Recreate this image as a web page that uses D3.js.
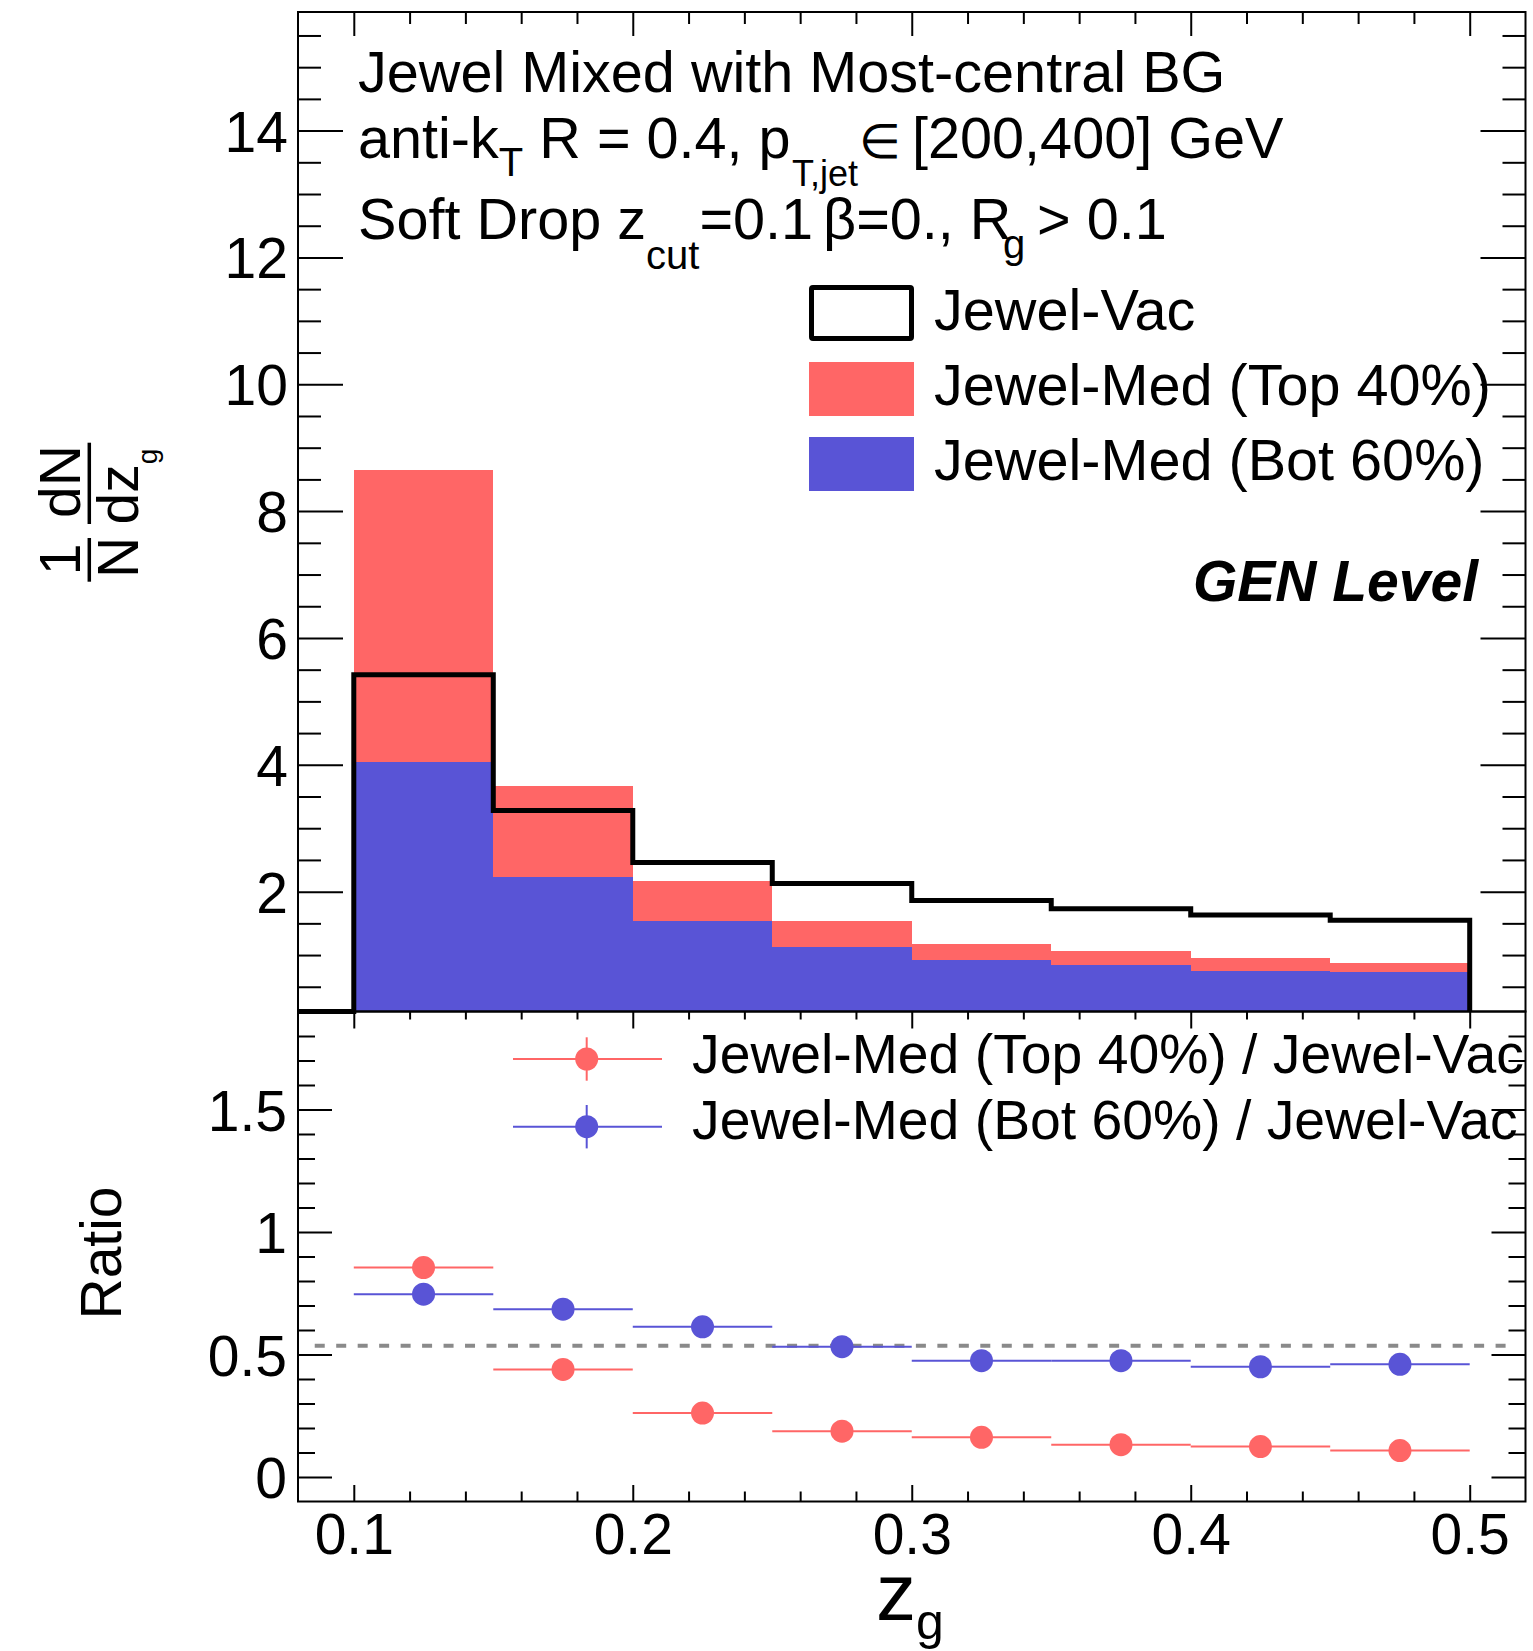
<!DOCTYPE html>
<html><head><meta charset="utf-8">
<script src="https://cdn.jsdelivr.net/npm/d3@7"></script>
<style>
body{margin:0;background:#fff}
svg{display:block}
text{font-family:"Liberation Sans",Arial,Helvetica,sans-serif;fill:#000;white-space:pre}
</style>
</head><body>
<svg id="c" width="1533" height="1651"></svg>
<script>
// ---------------- data ----------------
const binEdges   = [0.10,0.15,0.20,0.25,0.30,0.35,0.40,0.45,0.50];
const vacValues  = [5.42,3.28,2.46,2.13,1.86,1.73,1.63,1.55];   // Jewel-Vac
const medBot60   = [4.04,2.23,1.53,1.12,0.92,0.85,0.75,0.74];   // Jewel-Med (Bot 60%) (stack bottom)
const medTop40   = [4.61,1.43,0.63,0.41,0.26,0.22,0.20,0.13];   // Jewel-Med (Top 40%) (stacked on top)
const ratioTop40 = [0.855,0.439,0.261,0.187,0.162,0.132,0.124,0.108];
const ratioBot60 = [0.746,0.685,0.613,0.532,0.475,0.475,0.450,0.460];
const ratioRefValue = 0.536;
const ratioRefRange = [0.086,0.513];
const topYTicks   = [2,4,6,8,10,12,14];
const ratioYTicks = [0,0.5,1,1.5];
const ratioYLabels= ["0","0.5","1","1.5"];
const xTicks      = [0.1,0.2,0.3,0.4,0.5];
const xTickLabels = ["0.1","0.2","0.3","0.4","0.5"];
const legendTop   = ["Jewel-Vac","Jewel-Med (Top 40%)","Jewel-Med (Bot 60%)"];
const legendRatio = ["Jewel-Med (Top 40%) / Jewel-Vac","Jewel-Med (Bot 60%) / Jewel-Vac"];

// ---------------- layout ----------------
const RED='#ff6666', BLUE='#5954d6';
const L=298, R=1525.5, T=12, M=1011.5, B=1501.5;
const FS=57, FT=57.6;
const svg=d3.select('#c');
const x=d3.scaleLinear().domain([0.08,0.52]).range([L,R]);
const yTop=d3.scaleLinear().domain([0.11,15.87]).range([M,T]);
const yRat=d3.scaleLinear().domain([-0.1,1.9]).range([B,M]);

const bins=d3.range(binEdges.length-1).map(i=>({
  lo:binEdges[i],hi:binEdges[i+1],bot:medBot60[i],top:medTop40[i],
  vac:vacValues[i],rT:ratioTop40[i],rB:ratioBot60[i]}));
const stacked=d3.stack().keys(['bot','top'])(bins);

// ---------------- top panel fills ----------------
const gTop=svg.append('g');
gTop.selectAll('rect.red').data(stacked[1]).join('rect')
  .attr('x',d=>x(d.data.lo)).attr('width',d=>x(d.data.hi)-x(d.data.lo))
  .attr('y',d=>yTop(d[1])).attr('height',d=>M-yTop(d[1]))
  .attr('fill',RED).attr('shape-rendering','crispEdges');
gTop.selectAll('rect.blue').data(stacked[0]).join('rect')
  .attr('x',d=>x(d.data.lo)).attr('width',d=>x(d.data.hi)-x(d.data.lo))
  .attr('y',d=>yTop(d[1])).attr('height',d=>M-yTop(d[1]))
  .attr('fill',BLUE).attr('shape-rendering','crispEdges');

// vacuum outline
const ymin=yTop.domain()[0];
const vacPts=[[0.08,ymin]].concat(bins.map(b=>[b.lo,b.vac]),[[0.5,ymin]]);
gTop.append('path').datum(vacPts)
  .attr('d',d3.line().x(d=>x(d[0])).y(d=>yTop(d[1])).curve(d3.curveStepAfter))
  .attr('fill','none').attr('stroke','#000').attr('stroke-width',5);

// ---------------- ratio panel ----------------
const gR=svg.append('g');
gR.append('line')
  .attr('x1',x(ratioRefRange[0])).attr('x2',x(ratioRefRange[1]))
  .attr('y1',yRat(ratioRefValue)).attr('y2',yRat(ratioRefValue))
  .attr('stroke','#8a8a8a').attr('stroke-width',4).attr('stroke-dasharray','10,11.47');
[['rT',RED],['rB',BLUE]].forEach(([k,c])=>{
  gR.selectAll('line.e'+k).data(bins).join('line')
    .attr('x1',d=>x(d.lo)).attr('x2',d=>x(d.hi))
    .attr('y1',d=>yRat(d[k])).attr('y2',d=>yRat(d[k]))
    .attr('stroke',c).attr('stroke-width',2);
  gR.selectAll('circle.m'+k).data(bins).join('circle')
    .attr('cx',d=>x((d.lo+d.hi)/2)).attr('cy',d=>yRat(d[k])).attr('r',11.5)
    .attr('fill',c);
});

// ---------------- frames & ticks ----------------
function frame(y0,y1){
  svg.append('rect').attr('x',L).attr('y',y0).attr('width',R-L).attr('height',y1-y0)
    .attr('fill','none').attr('stroke','#000').attr('stroke-width',2);
}
frame(T,M); frame(M,B);
function ticks(axisFn,scale,vals,size,tx,ty){
  const g=svg.append('g').attr('transform',`translate(${tx},${ty})`)
    .call(axisFn(scale).tickValues(vals).tickSize(size).tickSizeOuter(0).tickFormat(''));
  g.select('.domain').remove();
  g.selectAll('line').attr('stroke','#000').attr('stroke-width',2);
}
const xMinor=d3.range(6,26).filter(i=>i%5!==0).map(i=>i*0.02);
const topYMinor=d3.range(1,32).filter(i=>i%4!==0).map(i=>i*0.5);
const ratYMinor=d3.range(1,19).filter(i=>i%5!==0).map(i=>i/10);
// top panel
ticks(d3.axisRight,yTop,topYTicks,45,L,0);
ticks(d3.axisRight,yTop,topYMinor,23,L,0);
ticks(d3.axisLeft,yTop,topYTicks,45,R,0);
ticks(d3.axisLeft,yTop,topYMinor,23,R,0);
ticks(d3.axisBottom,x,xTicks,24,0,T);
ticks(d3.axisBottom,x,xMinor,12,0,T);
// ratio panel
ticks(d3.axisRight,yRat,ratioYTicks,34,L,0);
ticks(d3.axisRight,yRat,ratYMinor,17,L,0);
ticks(d3.axisLeft,yRat,ratioYTicks,34,R,0);
ticks(d3.axisLeft,yRat,ratYMinor,17,R,0);
ticks(d3.axisBottom,x,xTicks,17,0,M);
ticks(d3.axisBottom,x,xMinor,8,0,M);
ticks(d3.axisTop,x,xTicks,16.5,0,B);
ticks(d3.axisTop,x,xMinor,10,0,B);

// tick labels
function labels(axisFn,scale,vals,fmt,pad,tx,ty,dy){
  const g=svg.append('g').attr('transform',`translate(${tx},${ty})`)
    .call(axisFn(scale).tickValues(vals).tickSize(0).tickPadding(pad).tickFormat(fmt));
  g.select('.domain').remove();
  g.attr('font-family',null).attr('font-size',null);
  g.selectAll('text').attr('font-size',FS).attr('fill','#000');
  if(dy) g.selectAll('text').attr('dy',dy);
}
labels(d3.axisLeft,yTop,topYTicks,d=>String(d),10,L,0,'0.36em');
labels(d3.axisLeft,yRat,ratioYTicks,(d,i)=>ratioYLabels[i],11,L,0,'0.36em');
labels(d3.axisBottom,x,xTicks,(d,i)=>xTickLabels[i],12,0,B);

// ---------------- texts ----------------
function rich(x0,y0,parts,size){
  const t=svg.append('text').attr('x',x0).attr('y',y0).attr('font-size',size||FT);
  let shift=0;
  parts.forEach(p=>{
    const ts=t.append('tspan').text(p.t);
    if(p.sub!=null){ts.attr('font-size',p.fs||40).attr('dy',p.sub-shift);shift=p.sub;}
    else if(shift){ts.attr('dy',-shift);shift=0;}
    if(p.x!=null) ts.attr('x',p.x);
    if(p.size!=null) ts.attr('font-size',p.size);
  });
  return t;
}
rich(358,91.7,[{t:'Jewel Mixed with Most-central BG'}]);
rich(358,157.5,[{t:'anti-k'},{t:'T',sub:18},{t:' R = 0.4, p'},{t:'T,jet',sub:28,x:792,fs:36},{t:'\u2208',x:859,size:48},{t:'[200,400] GeV',x:912}]);
rich(358,239.3,[{t:'Soft Drop z'},{t:'cut',sub:30},{t:'=0.1'},{t:'\u03B2=0., R',x:823},{t:'g',sub:19,x:1003},{t:'> 0.1',x:1037}]);

svg.append('text').attr('x',1478).attr('y',601).attr('text-anchor','end')
  .attr('font-size',FS).attr('font-weight','bold').attr('font-style','italic').text('GEN Level');

// top legend
const lg=svg.append('g');
lg.append('rect').attr('x',811.5).attr('y',287.5).attr('width',100).attr('height',51)
  .attr('fill','#fff').attr('stroke','#000').attr('stroke-width',5).attr('rx',1.5);
lg.append('rect').attr('x',809).attr('y',362).attr('width',105).attr('height',54).attr('fill',RED);
lg.append('rect').attr('x',809).attr('y',437).attr('width',105).attr('height',54).attr('fill',BLUE);
legendTop.forEach((s,i)=>lg.append('text').attr('x',934).attr('y',330+75*i).attr('font-size',FT).text(s));

// ratio legend
svg.append('clipPath').attr('id','clipR').append('rect').attr('x',0).attr('y',0).attr('width',1526).attr('height',1651);
const rl=svg.append('g');
[[RED,1059],[BLUE,1126.7]].forEach(([c,yy],i)=>{
  rl.append('line').attr('x1',513).attr('x2',662).attr('y1',yy).attr('y2',yy).attr('stroke',c).attr('stroke-width',2);
  rl.append('line').attr('x1',586.7).attr('x2',586.7).attr('y1',yy-21.7).attr('y2',yy+21.7).attr('stroke',c).attr('stroke-width',2);
  rl.append('circle').attr('cx',586.7).attr('cy',yy).attr('r',11.5).attr('fill',c);
  rl.append('text').attr('x',692).attr('y',[1073,1138.5][i]).attr('font-size',55.3)
    .attr('clip-path','url(#clipR)').text(legendRatio[i]);
});

// axis titles
const yt=svg.append('g').attr('transform','translate(89.3,0) rotate(-90)');
yt.append('line').attr('x1',-581.7).attr('x2',-538).attr('y1',0).attr('y2',0).attr('stroke','#000').attr('stroke-width',3.5);
yt.append('line').attr('x1',-524).attr('x2',-442.7).attr('y1',0).attr('y2',0).attr('stroke','#000').attr('stroke-width',3.5);
yt.append('text').attr('x',-559.5).attr('y',-9.3).attr('text-anchor','middle').attr('font-size',FS).text('1');
yt.append('text').attr('x',-557.5).attr('y',49).attr('text-anchor','middle').attr('font-size',FS).text('N');
yt.append('text').attr('x',-481.5).attr('y',-9.3).attr('text-anchor','middle').attr('font-size',FS).text('dN');
const dz=yt.append('text').attr('x',-524.5).attr('y',49).attr('font-size',FS);
dz.append('tspan').text('dz');
dz.append('tspan').attr('font-size',28).attr('dy',19).text('g');

svg.append('text').attr('transform','translate(120.7,1253) rotate(-90)').attr('text-anchor','middle')
  .attr('font-size',FS).text('Ratio');

const xt=svg.append('text').attr('x',876).attr('y',1620).attr('font-size',80);
xt.append('tspan').text('z');
xt.append('tspan').attr('font-size',50).attr('dy',19).text('g');
</script>
</body></html>
